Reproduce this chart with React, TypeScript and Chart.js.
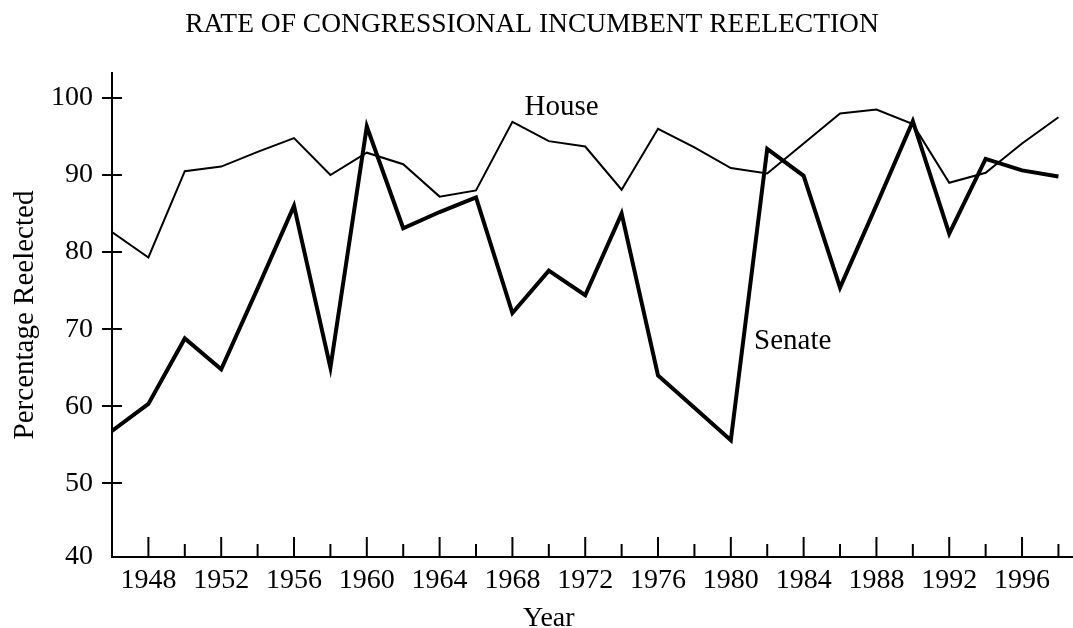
import React, { useEffect, useRef } from 'react';
import { Chart, registerables } from 'chart.js';

Chart.register(...registerables);

const years = [1946, 1948, 1950, 1952, 1954, 1956, 1958, 1960, 1962, 1964, 1966, 1968, 1970, 1972, 1974, 1976, 1978, 1980, 1982, 1984, 1986, 1988, 1990, 1992, 1994, 1996, 1998];
const house = [82.6, 79.3, 90.5, 91.1, 93.0, 94.8, 90.0, 92.9, 91.4, 87.2, 88.0, 96.9, 94.4, 93.7, 88.1, 96.0, 93.6, 90.9, 90.2, 94.1, 98.0, 98.5, 96.6, 89.0, 90.3, 94.1, 97.5];
const senate = [56.8, 60.3, 68.8, 64.8, 75.3, 86.0, 65.0, 96.3, 83.1, 85.2, 87.1, 72.1, 77.6, 74.4, 85.0, 64.0, 59.8, 55.6, 93.4, 89.9, 75.4, 86.1, 97.0, 82.4, 92.1, 90.6, 89.8];
const xLabelYears = [1948, 1952, 1956, 1960, 1964, 1968, 1972, 1976, 1980, 1984, 1988, 1992, 1996];
const xMinorYears = [1950, 1954, 1958, 1962, 1966, 1970, 1974, 1978, 1982, 1986, 1990, 1994, 1998];
const yTickValues = [40, 50, 60, 70, 80, 90, 100];

const TITLE = 'RATE OF CONGRESSIONAL INCUMBENT REELECTION';
const X_TITLE = 'Year';
const Y_TITLE = 'Percentage Reelected';
const HOUSE_LABEL = 'House';
const SENATE_LABEL = 'Senate';

const FONT_FAMILY = "'Liberation Serif', 'Times New Roman', serif";

const Y_MIN = 40.44;
const Y_MAX = 103.24;

const drawPlugin = {
  id: 'customDraw',
  afterDraw(chart: any) {
    const { ctx, chartArea } = chart;
    const x = chart.scales.x;
    const y = chart.scales.y;
    ctx.save();
    ctx.strokeStyle = '#000';
    ctx.lineWidth = 2;
    ctx.lineCap = 'butt';
    // y tick marks crossing the axis
    yTickValues.forEach((v) => {
      if (v === 40) return;
      const py = Math.round(y.getPixelForValue(v));
      ctx.beginPath();
      ctx.moveTo(chartArea.left - 10, py);
      ctx.lineTo(chartArea.left + 10, py);
      ctx.stroke();
    });
    // x tick marks pointing inward
    xLabelYears.forEach((v) => {
      const px = x.getPixelForValue(v);
      ctx.beginPath();
      ctx.moveTo(px, chartArea.bottom);
      ctx.lineTo(px, chartArea.bottom - 20);
      ctx.stroke();
    });
    xMinorYears.forEach((v) => {
      const px = x.getPixelForValue(v);
      ctx.beginPath();
      ctx.moveTo(px, chartArea.bottom);
      ctx.lineTo(px, chartArea.bottom - 13);
      ctx.stroke();
    });

    ctx.fillStyle = '#000';
    // title
    ctx.font = `27.5px ${FONT_FAMILY}`;
    ctx.textAlign = 'center';
    ctx.textBaseline = 'alphabetic';
    ctx.fillText(TITLE, 532, 32);

    // series labels
    ctx.font = `29px ${FONT_FAMILY}`;
    ctx.textAlign = 'left';
    ctx.fillText(HOUSE_LABEL, x.getPixelForValue(1968.67), y.getPixelForValue(97.76));
    ctx.fillText(SENATE_LABEL, x.getPixelForValue(1981.28), y.getPixelForValue(67.38));

    // x title
    ctx.font = `28px ${FONT_FAMILY}`;
    ctx.textAlign = 'center';
    ctx.fillText(X_TITLE, x.getPixelForValue(1970), 626);

    // y title
    ctx.save();
    ctx.font = `29px ${FONT_FAMILY}`;
    ctx.translate(33, (chartArea.top + chartArea.bottom) / 2);
    ctx.rotate(-Math.PI / 2);
    ctx.textAlign = 'center';
    ctx.textBaseline = 'alphabetic';
    ctx.fillText(Y_TITLE, 0, 0);
    ctx.restore();

    ctx.restore();
  },
};

export default function App() {
  const canvasRef = useRef<HTMLCanvasElement | null>(null);

  useEffect(() => {
    document.body.style.margin = '0';
    const canvas = canvasRef.current;
    if (!canvas) return;
    const chart = new Chart(canvas, {
      type: 'line',
      data: {
        datasets: [
          {
            label: 'House',
            data: years.map((yr, i) => ({ x: yr, y: house[i] })),
            borderColor: '#000',
            borderWidth: 2,
            pointRadius: 0,
            borderJoinStyle: 'miter',
            tension: 0,
            fill: false,
          },
          {
            label: 'Senate',
            data: years.map((yr, i) => ({ x: yr, y: senate[i] })),
            borderColor: '#000',
            borderWidth: 4,
            pointRadius: 0,
            borderJoinStyle: 'miter',
            tension: 0,
            fill: false,
          },
        ],
      },
      options: {
        animation: false,
        responsive: true,
        maintainAspectRatio: false,
        layout: { padding: { top: 73, left: 0, right: 0, bottom: 0 } },
        plugins: {
          legend: { display: false },
          tooltip: { enabled: false },
          title: { display: false },
        },
        scales: {
          x: {
            type: 'linear',
            min: 1946,
            max: 1998.8,
            afterBuildTicks: (scale: any) => {
              scale.ticks = xLabelYears.map((v) => ({ value: v }));
            },
            afterFit: (scale: any) => {
              scale.height = 71;
            },
            ticks: {
              autoSkip: false,
              maxRotation: 0,
              minRotation: 0,
              padding: 7,
              color: '#000',
              font: { family: FONT_FAMILY, size: 28 },
              callback: (v: any) => String(v),
            },
            grid: { drawOnChartArea: false, drawTicks: false },
            border: { display: true, color: '#000', width: 2 },
          },
          y: {
            type: 'linear',
            min: Y_MIN,
            max: Y_MAX,
            afterBuildTicks: (scale: any) => {
              scale.ticks = yTickValues.map((v) => ({ value: v === 40 ? scale.min : v }));
            },
            afterFit: (scale: any) => {
              scale.width = 112;
            },
            ticks: {
              autoSkip: false,
              padding: 19,
              color: '#000',
              font: { family: FONT_FAMILY, size: 28 },
              callback: (v: any) => String(Math.round(Number(v))),
            },
            grid: { drawOnChartArea: false, drawTicks: false },
            border: { display: true, color: '#000', width: 2 },
          },
        },
      },
      plugins: [drawPlugin],
    });
    return () => chart.destroy();
  }, []);

  return (
    <div style={{ position: 'fixed', left: 0, top: 0, width: 1073, height: 628, background: '#fff' }}>
      <canvas ref={canvasRef} />
    </div>
  );
}
